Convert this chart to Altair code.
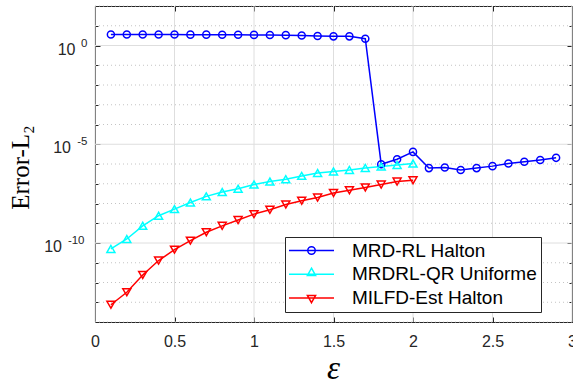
import altair as alt
import pandas as pd

# ---------------- data ----------------
series_names = ["MRD-RL Halton", "MRDRL-QR Uniforme", "MILFD-Est Halton"]
series_colors = ["#0000FF", "#00FFFF", "#FF0000"]
series_shapes = ["circle", "triangle-up", "triangle-down"]
series_sizes = [50, 64, 64]

eps_rl = [0.1, 0.2, 0.3, 0.4, 0.5, 0.6, 0.7, 0.8, 0.9, 1.0, 1.1, 1.2, 1.3, 1.4, 1.5,
          1.6, 1.7, 1.8, 1.9, 2.0, 2.1, 2.2, 2.3, 2.4, 2.5, 2.6, 2.7, 2.8, 2.9]
err_rl = [3.6, 3.6, 3.6, 3.6, 3.6, 3.55, 3.55, 3.5, 3.5, 3.45, 3.4, 3.35, 3.2, 3.05, 2.9,
          2.9, 2.2, 9.8e-7, 1.75e-6, 4.1e-6, 6.2e-7, 6.6e-7, 5.0e-7, 6.2e-7, 7.8e-7,
          1.05e-6, 1.3e-6, 1.6e-6, 2.05e-6]

eps_qr = [0.1, 0.2, 0.3, 0.4, 0.5, 0.6, 0.7, 0.8, 0.9, 1.0, 1.1, 1.2, 1.3, 1.4, 1.5,
          1.6, 1.7, 1.8, 1.9, 2.0]
err_qr = [5.0e-11, 1.6e-10, 7.4e-10, 2.4e-9, 5.2e-9, 1.12e-8, 2.3e-8, 3.8e-8, 5.6e-8,
          9.1e-8, 1.29e-7, 1.7e-7, 2.5e-7, 3.5e-7, 4.2e-7, 5.0e-7, 6.3e-7, 7.4e-7,
          8.9e-7, 1.05e-6]

eps_est = [0.1, 0.2, 0.3, 0.4, 0.5, 0.6, 0.7, 0.8, 0.9, 1.0, 1.1, 1.2, 1.3, 1.4, 1.5,
           1.6, 1.7, 1.8, 1.9, 2.0]
err_est = [7.5e-14, 3.2e-13, 2.4e-12, 1.29e-11, 4.6e-11, 1.32e-10, 3.5e-10, 7.4e-10,
           1.45e-9, 2.9e-9, 4.8e-9, 8.9e-9, 1.38e-8, 2.0e-8, 3.4e-8, 4.7e-8, 6.5e-8,
           9.1e-8, 1.29e-7, 1.5e-7]

x_ticks = [0, 0.5, 1, 1.5, 2, 2.5, 3]
x_tick_labels = ["0", "0.5", "1", "1.5", "2", "2.5", "3"]
y_major = [1e-10, 1e-5, 1e0]
y_major_exp = [-10, -5, 0]
y_major_base = ["10", "10", "10"]
y_major_sup = ["-10", "-5", "0"]
y_decades = [1e-14, 1e-13, 1e-12, 1e-11, 1e-10, 1e-9, 1e-8, 1e-7, 1e-6, 1e-5,
             1e-4, 1e-3, 1e-2, 1e-1, 1e0, 1e1, 1e2]
y_minor = [v for v in y_decades if v not in y_major]

x_domain = [0, 3]
y_domain = [1e-14, 1e2]

# ---------------- tables ----------------
rows = []
for name, xs, ys in zip(series_names, [eps_rl, eps_qr, eps_est], [err_rl, err_qr, err_est]):
    for xv, yv in zip(xs, ys):
        rows.append({"series": name, "eps": xv, "err": yv})
df = pd.DataFrame(rows)

xgrid_df = pd.DataFrame({"v": x_ticks})
ymajor_df = pd.DataFrame({"v": y_major})
yminor_df = pd.DataFrame({"v": y_minor})

# ---------------- helpers ----------------
def is_exp(e):
    return f"abs(log(datum.value)/LN10 - ({e})) < 0.01"

x_label_expr = " : ".join(
    f"abs(datum.value - {v}) < 1e-6 ? '{t}'" for v, t in zip(x_ticks, x_tick_labels)
) + " : ''"
y_base_expr = " : ".join(f"{is_exp(e)} ? '{t}'" for e, t in zip(y_major_exp, y_major_base)) + " : ''"
y_sup_expr = " : ".join(f"{is_exp(e)} ? '{t}'" for e, t in zip(y_major_exp, y_major_sup)) + " : ''"

AX = "#262626"
LF = "Liberation Sans"

xscale = alt.Scale(domain=x_domain, nice=False, zero=False)
yscale = alt.Scale(type="log", domain=y_domain, nice=False)
color_scale = alt.Scale(domain=series_names, range=series_colors)

# legend symbol paths (line with marker), in symbol units (r = sqrt(size)/2 = 5px)
p_circle = "M-4.5,0H4.5M-0.75,0A0.75,0.75,0,1,1,0.75,0A0.75,0.75,0,1,1,-0.75,0"
p_up = "M-4.5,0H4.5M0,-1.2L0.82,0.25L-0.82,0.25Z"
p_down = "M-4.5,0H4.5M0,0.95L0.82,-0.5L-0.82,-0.5Z"
legend_paths = [p_circle, p_up, p_down]
shape_expr = " : ".join(
    f"datum.value == '{n}' ? '{p}'" for n, p in zip(series_names, legend_paths)
) + f" : '{p_circle}'"

legend = alt.Legend(
    title=None,
    orient="none",
    legendX=190,
    legendY=231,
    padding=4,
    fillColor="white",
    strokeColor=AX,
    symbolSize=100,
    symbolStrokeWidth=1.5,
    symbolOffset=13,
    symbolFillColor="transparent",
    symbolType=alt.ExprRef(shape_expr),
    labelOffset=31,
    rowPadding=3.7,
    labelFont=LF,
    labelFontSize=19,
    labelColor="black",
    labelLimit=500,
    labelExpr="datum.label + '\u00a0\u00a0\u00a0\u00a0\u00a0'",
)

def tick_axis(orient, values, size, **kw):
    return alt.Axis(orient=orient, values=values, labels=False, title=None,
                    domain=False, grid=False, tickSize=size, offset=-size,
                    tickColor=AX, tickWidth=1, **kw)

# ---------------- layers ----------------
vgrid = alt.Chart(xgrid_df).mark_rule(color="#dedede", strokeWidth=1).encode(
    x=alt.X("v:Q", scale=xscale, axis=tick_axis("top", x_ticks, 5))
)

hgrid_minor = alt.Chart(yminor_df).mark_rule(color="#c4c4c4", strokeWidth=1, strokeDash=[1, 3]).encode(
    y=alt.Y("v:Q", scale=yscale, axis=tick_axis("left", y_decades, 3))
)

hgrid_major = alt.Chart(ymajor_df).mark_rule(color="#dedede", strokeWidth=1).encode(
    y=alt.Y("v:Q", scale=yscale, axis=tick_axis("right", y_major, 5))
)

lines = alt.Chart(df).mark_line(strokeWidth=1.5).encode(
    x=alt.X("eps:Q", scale=xscale,
            axis=alt.Axis(orient="bottom", values=x_ticks, labelExpr=x_label_expr,
                          domain=False, grid=False, tickSize=5, offset=-5,
                          tickColor=AX, tickWidth=1, labelFlush=False,
                          labelFont=LF, labelFontSize=16, labelColor=AX, labelPadding=11,
                          title="\u03b5", titleFont="Liberation Serif", titleFontStyle="italic",
                          titleFontWeight="normal", titleFontSize=33, titleColor="black",
                          titleBaseline="alphabetic", titleX=238, titleY=61, titleAlign="center")),
    y=alt.Y("err:Q", scale=yscale,
            axis=alt.Axis(orient="left", values=y_major, labelExpr=y_base_expr,
                          domain=False, grid=False, tickSize=5, offset=-5,
                          tickColor=AX, tickWidth=1,
                          labelFont=LF, labelFontSize=16, labelColor=AX,
                          labelPadding={"condition": [{"test": is_exp(-10), "value": 33.5},
                                                      {"test": is_exp(-5), "value": 24.5}],
                                        "value": 20},
                          labelOffset=3.5,
                          title="Error-L\u2082", titleFont="Liberation Serif",
                          titleFontWeight="normal", titleFontSize=25, titleColor="black",
                          titleBaseline="alphabetic", titleAlign="center",
                          titleX=-71.7, titleY=161)),
    color=alt.Color("series:N", scale=color_scale, legend=legend),
)

# point layers (one per series)
pt_axes = [
    tick_axis("right", y_decades, 3),
    alt.Axis(orient="left", values=y_major, labelExpr=y_sup_expr, title=None,
             domain=False, grid=False, tickSize=5, offset=-5, tickOpacity=0,
             labelFont=LF, labelFontSize=11.5, labelColor=AX,
             labelPadding={"condition": [{"test": is_exp(-10), "value": 11}], "value": 8},
             labelOffset=-2.5),
    None,
]
point_layers = []
for name, col, shp, sz, yax in zip(series_names, series_colors, series_shapes, series_sizes, pt_axes):
    point_layers.append(
        alt.Chart(df).transform_filter(alt.datum.series == name)
        .mark_point(filled=False, strokeWidth=1.5, opacity=1, shape=shp, size=sz, color=col)
        .encode(
            x=alt.X("eps:Q", scale=xscale, axis=None),
            y=alt.Y("err:Q", scale=yscale, axis=yax),
        )
    )

chart = alt.layer(vgrid, hgrid_minor, hgrid_major, lines, *point_layers).resolve_axis(
    x="independent", y="independent"
).properties(
    width=477,
    height=316,
    autosize=alt.AutoSizeParams(type="none"),
    padding={"left": 95, "top": 6, "right": 1, "bottom": 65},
    background="white",
).configure_view(stroke=AX, strokeWidth=1)

chart.save("out.html", embed_options={"renderer": "svg", "actions": False})
